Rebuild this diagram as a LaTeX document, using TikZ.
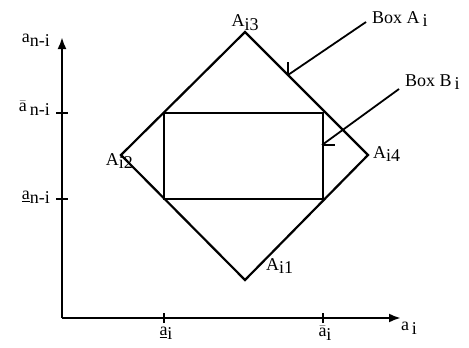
\documentclass[tikz,border=0pt]{standalone}
\usepackage{fontspec}
\setmainfont{Liberation Serif}
\usetikzlibrary{arrows.meta}
\newcommand{\lowr}[1]{\raisebox{-0.45ex}{#1}}
\newcommand{\obar}[1]{$\bar{\mbox{#1}}$}
\newcommand{\ubar}[1]{\underline{#1}}
\begin{document}
\begin{tikzpicture}[x=1pt,y=-1pt,
  ln/.style={line width=2.2pt},
  thin/.style={line width=1.8pt},
  lbl/.style={font=\fontsize{18}{20}\selectfont, inner sep=0pt},
  axarrow/.style={-{Latex[length=12pt,width=9pt]}, line width=2.3pt}]
\useasboundingbox (0,0) rectangle (469,348);
% axes
\coordinate (O) at (62,318);
\coordinate (Ytop) at (62,37);
\coordinate (Xend) at (401,318);
\draw[axarrow] (O) -- (Ytop);
\draw[axarrow] (O) -- (Xend);
% ticks
\coordinate (tx1) at (164,318);
\coordinate (tx2) at (323,318);
\coordinate (ty1) at (62,113);
\coordinate (ty2) at (62,199);
\draw[thin] ([yshift=-5]tx1) -- ([yshift=5]tx1);
\draw[thin] ([yshift=-5]tx2) -- ([yshift=5]tx2);
\draw[thin] ([xshift=-6]ty1) -- ([xshift=6]ty1);
\draw[thin] ([xshift=-6]ty2) -- ([xshift=6]ty2);
% diamond
\coordinate (A1) at (245,280);
\coordinate (A2) at (121,155);
\coordinate (A3) at (245,32);
\coordinate (A4) at (368,155);
\draw[ln, line join=miter] (A1) -- (A2) -- (A3) -- (A4) -- cycle;
% rectangle
\coordinate (R1) at (164,113);
\coordinate (R2) at (323,199);
\draw[ln] (R1) rectangle (R2);
% leader lines
\coordinate (pA) at (288,75);
\coordinate (qA) at (366,22);
\coordinate (pB) at (322,145);
\coordinate (qB) at (399,89);
\draw[thin] (pA) -- (qA);
\draw[thin] (pA) -- ++(0,-13);
\draw[thin] (pB) -- (qB);
\draw[thin] (pB) -- ++(13,0);
% labels
\node[lbl, anchor=west] (lA) at (372,19) {Box A\lowr{\,i}};
\node[lbl, anchor=west] (lB) at (405,82) {Box B\lowr{\,i}};
\node[lbl, anchor=south] (n3) at (245,31) {A\lowr{i3}};
\node[lbl, anchor=west] (n4) at (373,154) {A\lowr{i4}};
\node[lbl, anchor=east] (n2) at (133,161) {A\lowr{i2}};
\node[lbl, anchor=west] (n1) at (266,266) {A\lowr{i1}};
\node[lbl, anchor=east] (ya) at (50,40) {a\lowr{n-i}};
\node[lbl, anchor=east] (yb) at (50,108) {\obar{a}\lowr{\,n-i}};
\node[lbl, anchor=east] (yc) at (50,197) {\ubar{a}\lowr{n-i}};
\node[lbl] (xa) at (166,333) {\ubar{a}\lowr{i}};
\node[lbl] (xb) at (325,333) {\obar{a}\lowr{i}};
\node[lbl] (xc) at (409,328) {a\lowr{\,i}};
\end{tikzpicture}
\end{document}
